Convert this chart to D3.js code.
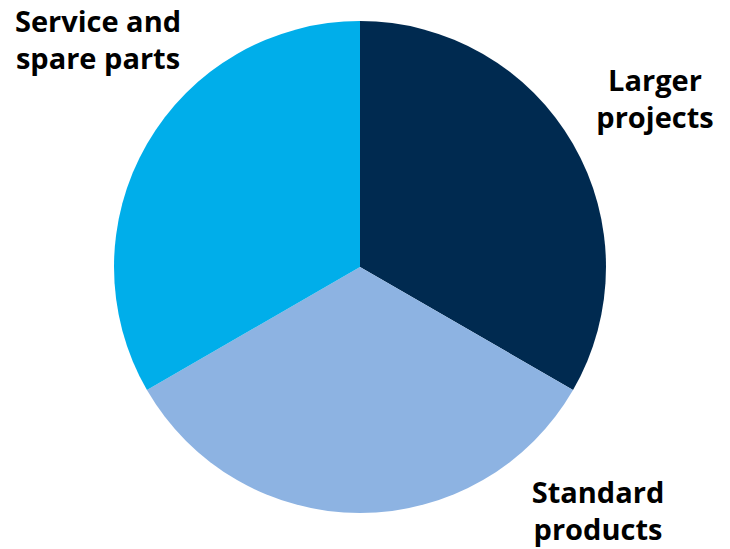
<!DOCTYPE html>
<html>
<head>
<meta charset="utf-8">
<script src="https://d3js.org/d3.v7.min.js"></script>
<style>
  body { margin: 0; background: #fff; }
  text { font-family: "Open Sans", sans-serif; font-weight: 700; }
</style>
</head>
<body>
<svg id="chart" width="730" height="549"></svg>
<script>
  // segments, clockwise from 12 o'clock
  const segments = ["Larger projects", "Standard products", "Service and spare parts"];
  const shares = [1, 1, 1];
  const colors = ["#002A50", "#8DB3E2", "#00AEEA"];
  // label lines and anchor positions
  const labelLines = [["Larger", "projects"], ["Standard", "products"], ["Service and", "spare parts"]];
  const labelPos = [[655, 91], [598, 503], [98, 32]];

  const svg = d3.select("#chart");
  const cx = 360, cy = 267, radius = 246;

  const pie = d3.pie().sort(null).value(d => d)(shares);
  const arc = d3.arc().innerRadius(0).outerRadius(radius);
  const color = d3.scaleOrdinal().domain(segments).range(colors);

  const g = svg.append("g").attr("transform", `translate(${cx},${cy})`);
  g.selectAll("path")
    .data(pie)
    .enter()
    .append("path")
    .attr("d", arc)
    .attr("fill", (d, i) => color(segments[i]));

  const labels = svg.selectAll("text.lbl")
    .data(segments)
    .enter()
    .append("text")
    .attr("class", "lbl")
    .attr("text-anchor", "middle")
    .attr("font-size", 29)
    .attr("fill", "#000");

  labels.each(function(d, i) {
    const t = d3.select(this);
    labelLines[i].forEach((line, j) => {
      t.append("tspan")
        .attr("x", labelPos[i][0])
        .attr("y", labelPos[i][1] + j * 37)
        .text(line);
    });
  });
</script>
</body>
</html>
